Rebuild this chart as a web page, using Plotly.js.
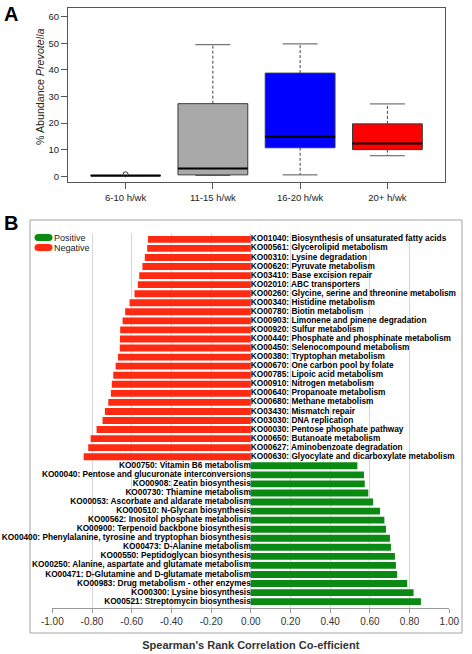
<!DOCTYPE html>
<html>
<head>
<meta charset="utf-8">
<script src="https://cdn.plot.ly/plotly-3.0.1.min.js"></script>
<style>html,body{margin:0;padding:0;background:#fff;}#chart{width:472px;height:654px;}</style>
</head>
<body>
<div id="chart"></div>
<script>
// ---------- Panel A data ----------
const groups = ['6-10 h/wk', '11-15 h/wk', '16-20 h/wk', '20+ h/wk'];
const whiskerLow = [0.25, 0.25, 0.5, 7.7];
const q1 = [0.25, 0.5, 10.7, 10.0];
const median = [0.25, 2.9, 14.8, 12.3];
const q3 = [0.25, 27.3, 38.8, 19.7];
const whiskerHigh = [0.25, 49.5, 49.8, 27.2];
const outlierGroup = [1];
const outlierValue = [0.7];
const boxColors = ['#A9A9A9', '#A9A9A9', '#0000FF', '#FF0000'];
const yTicksA = [0, 10, 20, 30, 40, 50, 60];

// ---------- Panel B data ----------
const negLabels = [
  'KO01040: Biosynthesis of unsaturated fatty acids',
  'KO00561: Glycerolipid metabolism',
  'KO00310: Lysine degradation',
  'KO00620: Pyruvate metabolism',
  'KO03410: Base excision repair',
  'KO02010: ABC transporters',
  'KO00260: Glycine, serine and threonine metabolism',
  'KO00340: Histidine metabolism',
  'KO00780: Biotin metabolism',
  'KO00903: Limonene and pinene degradation',
  'KO00920: Sulfur metabolism',
  'KO00440: Phosphate and phosphinate metabolism',
  'KO00450: Selenocompound metabolism',
  'KO00380: Tryptophan metabolism',
  'KO00670: One carbon pool by folate',
  'KO00785: Lipoic acid metabolism',
  'KO00910: Nitrogen metabolism',
  'KO00640: Propanoate metabolism',
  'KO00680: Methane metabolism',
  'KO03430: Mismatch repair',
  'KO03030: DNA replication',
  'KO00030: Pentose phosphate pathway',
  'KO00650: Butanoate metabolism',
  'KO00627: Aminobenzoate degradation',
  'KO00630: Glyocylate and dicarboxylate metabolism'
];
const negValues = [-0.518, -0.522, -0.534, -0.546, -0.562, -0.569, -0.586, -0.611, -0.633, -0.646,
  -0.658, -0.659, -0.660, -0.669, -0.681, -0.693, -0.700, -0.705, -0.718, -0.735,
  -0.747, -0.777, -0.807, -0.819, -0.842];
const posLabels = [
  'KO00750: Vitamin B6 metabolism',
  'KO00040: Pentose and glucuronate interconversions',
  'KO00908: Zeatin biosynthesis',
  'KO00730: Thiamine metabolism',
  'KO00053: Ascorbate and aldarate metabolism',
  'KO000510: N-Glycan biosynthesis',
  'KO00562: Inositol phosphate metabolism',
  'KO00900: Terpenoid backbone biosynthesis',
  'KO00400: Phenylalanine, tyrosine and tryptophan biosynthesis',
  'KO00473: D-Alanine metabolism',
  'KO00550: Peptidoglycan biosynthesis',
  'KO00250: Alanine, aspartate and glutamate metabolism',
  'KO00471: D-Glutamine and D-glutamate metabolism',
  'KO00983: Drug metabolism - other enzymes',
  'KO00300: Lysine biosynthesis',
  'KO00521: Streptomycin biosynthesis'
];
const posValues = [0.537, 0.570, 0.574, 0.592, 0.616, 0.651, 0.673, 0.681, 0.701, 0.706,
  0.726, 0.731, 0.737, 0.788, 0.820, 0.857];
const xTickValsB = [-1, -0.8, -0.6, -0.4, -0.2, 0, 0.2, 0.4, 0.6, 0.8, 1];
const xTickTextB = ['-1.00', '-0.80', '-0.60', '-0.40', '-0.20', '0.00', '0.20', '0.40', '0.60', '0.80', '1.00'];
const legendNames = ['Positive', 'Negative'];
const legendColors = ['#0A8A12', '#FF2A12'];

// ---------- build ----------
const FONT = 'Liberation Sans, Arial, Helvetica, sans-serif';
const W = 472, H = 654;
const px = v => v / W;
const py = v => 1 - v / H;

const traces = [];
const xpos = groups.map((g, i) => i + 1);

// boxes
groups.forEach((g, i) => {
  traces.push({
    type: 'box', x: [xpos[i]], q1: [q1[i]], median: [median[i]], q3: [q3[i]],
    lowerfence: [q1[i]], upperfence: [q3[i]], width: 0.8, whiskerwidth: 0,
    fillcolor: boxColors[i], line: {color: '#3a3a3a', width: 1},
    xaxis: 'x', yaxis: 'y', showlegend: false, hoverinfo: 'skip'
  });
});
// whiskers (dashed), caps, medians
const wx = [], wy = [], cx = [], cy = [], mx = [], my = [];
groups.forEach((g, i) => {
  const x = xpos[i];
  if (whiskerHigh[i] > q3[i]) { wx.push(x, x, null); wy.push(q3[i], whiskerHigh[i], null); }
  if (whiskerLow[i] < q1[i]) { wx.push(x, x, null); wy.push(q1[i], whiskerLow[i], null); }
  cx.push(x - 0.2, x + 0.2, null, x - 0.2, x + 0.2, null);
  cy.push(whiskerHigh[i], whiskerHigh[i], null, whiskerLow[i], whiskerLow[i], null);
  mx.push(x - 0.4, x + 0.4, null);
  my.push(median[i], median[i], null);
});
traces.push({type: 'scatter', mode: 'lines', x: wx, y: wy, line: {color: '#444', width: 1, dash: '3px,2px'},
  xaxis: 'x', yaxis: 'y', showlegend: false, hoverinfo: 'skip'});
traces.push({type: 'scatter', mode: 'lines', x: cx, y: cy, line: {color: '#555', width: 1},
  xaxis: 'x', yaxis: 'y', showlegend: false, hoverinfo: 'skip'});
traces.push({type: 'scatter', mode: 'lines', x: mx, y: my, line: {color: '#000', width: 2.2},
  xaxis: 'x', yaxis: 'y', showlegend: false, hoverinfo: 'skip'});
traces.push({type: 'scatter', mode: 'markers', x: outlierGroup, y: outlierValue,
  marker: {symbol: 'circle-open', size: 5, color: '#333', line: {width: 1}},
  xaxis: 'x', yaxis: 'y', showlegend: false, hoverinfo: 'skip'});

// Panel B bars
traces.push({type: 'bar', orientation: 'h', y: negLabels, x: negValues, width: 0.76,
  marker: {color: legendColors[1], line: {width: 0}}, name: legendNames[1],
  xaxis: 'x2', yaxis: 'y2', showlegend: false, hoverinfo: 'skip'});
traces.push({type: 'bar', orientation: 'h', y: posLabels, x: posValues, width: 0.76,
  marker: {color: legendColors[0], line: {width: 0}}, name: legendNames[0],
  xaxis: 'x2', yaxis: 'y2', showlegend: false, hoverinfo: 'skip'});
const LABEL_SIZE = 8.3;
traces.push({type: 'scatter', mode: 'text', y: negLabels, x: negLabels.map(() => 0), text: negLabels,
  textposition: 'middle right', textfont: {family: FONT, size: LABEL_SIZE, color: '#000', weight: 'bold'},
  cliponaxis: false, xaxis: 'x2', yaxis: 'y2', showlegend: false, hoverinfo: 'skip'});
traces.push({type: 'scatter', mode: 'text', y: posLabels, x: posLabels.map(() => 0), text: posLabels,
  textposition: 'middle left', textfont: {family: FONT, size: LABEL_SIZE, color: '#000', weight: 'bold'},
  cliponaxis: false, xaxis: 'x2', yaxis: 'y2', showlegend: false, hoverinfo: 'skip'});

const allLabels = negLabels.concat(posLabels);

// frame + legend look-alike (decoration)
const shapes = [
  {type: 'rect', xref: 'paper', yref: 'paper', x0: px(30), x1: px(462), y0: py(633), y1: py(220),
   line: {color: '#a3a3a3', width: 1}, fillcolor: 'rgba(0,0,0,0)', layer: 'below'}
];
const annotations = [
  {text: '<b>A</b>', xref: 'paper', yref: 'paper', x: px(2), y: py(1), xanchor: 'left', yanchor: 'top',
   showarrow: false, font: {family: FONT, size: 20, color: '#000'}},
  {text: '<b>B</b>', xref: 'paper', yref: 'paper', x: px(2), y: py(210), xanchor: 'left', yanchor: 'top',
   showarrow: false, font: {family: FONT, size: 20, color: '#000'}},
  {text: '% Abundance <i>Prevotella</i>', xref: 'paper', yref: 'paper', x: px(40), y: py(87),
   xanchor: 'center', yanchor: 'middle', textangle: -90, showarrow: false,
   font: {family: FONT, size: 10.7, color: '#222'}}
];
legendNames.forEach((n, i) => {
  const cyL = 237.5 + i * 10;
  shapes.push({type: 'rect', xref: 'paper', yref: 'paper', x0: px(38.5), x1: px(48.5), y0: py(cyL + 3.6), y1: py(cyL - 3.6),
    fillcolor: legendColors[i], line: {width: 0}});
  shapes.push({type: 'circle', xref: 'paper', yref: 'paper', x0: px(34.5), x1: px(42), y0: py(cyL + 3.6), y1: py(cyL - 3.6),
    fillcolor: legendColors[i], line: {width: 0}});
  shapes.push({type: 'circle', xref: 'paper', yref: 'paper', x0: px(45), x1: px(52.5), y0: py(cyL + 3.6), y1: py(cyL - 3.6),
    fillcolor: legendColors[i], line: {width: 0}});
  annotations.push({text: n, xref: 'paper', yref: 'paper', x: px(51.5), y: py(cyL), xanchor: 'left', yanchor: 'middle',
    showarrow: false, font: {family: FONT, size: 9, color: '#222'}});
});

const layout = {
  width: W, height: H, margin: {l: 0, r: 0, t: 0, b: 0},
  paper_bgcolor: '#fff', plot_bgcolor: 'rgba(0,0,0,0)',
  font: {family: FONT, color: '#222'},
  showlegend: false,
  xaxis: {domain: [px(68), px(445)], range: [0.34, 4.66], anchor: 'y',
    tickvals: xpos, ticktext: groups, ticks: 'outside', ticklen: 6, tickcolor: '#555',
    showline: true, mirror: true, linecolor: '#555', linewidth: 1, showgrid: false, zeroline: false,
    tickfont: {size: 9.5, color: '#222'}},
  yaxis: {domain: [py(182.3), py(8.3)], range: [-2.3, 63.2], anchor: 'x',
    tickvals: yTicksA, ticks: 'outside', ticklen: 6, tickcolor: '#555',
    showline: true, mirror: true, linecolor: '#555', linewidth: 1, showgrid: false, zeroline: false,
    tickfont: {size: 9.5, color: '#222'}},
  xaxis2: {domain: [px(52.3), px(449.3)], range: [-1, 1], anchor: 'y2',
    tickvals: xTickValsB, ticktext: xTickTextB, ticks: 'outside', ticklen: 4, tickcolor: '#999',
    showline: true, linecolor: '#999', linewidth: 1, showgrid: true, gridcolor: '#d6d6d6', gridwidth: 1,
    zeroline: true, zerolinecolor: '#d6d6d6', zerolinewidth: 1,
    tickfont: {size: 10, color: '#333'},
    title: {text: "<b>Spearman's Rank Correlation Co-efficient</b>", font: {size: 11, color: '#333'}, standoff: 15}},
  yaxis2: {domain: [py(608), py(233)], type: 'category', categoryorder: 'array', categoryarray: allLabels,
    range: [allLabels.length - 0.3, -0.7], anchor: 'x2',
    showticklabels: false, ticks: '', showgrid: false, zeroline: false, showline: false},
  bargap: 0.2,
  shapes: shapes,
  annotations: annotations
};

Plotly.newPlot('chart', traces, layout, {staticPlot: true, displayModeBar: false});
</script>
</body>
</html>
